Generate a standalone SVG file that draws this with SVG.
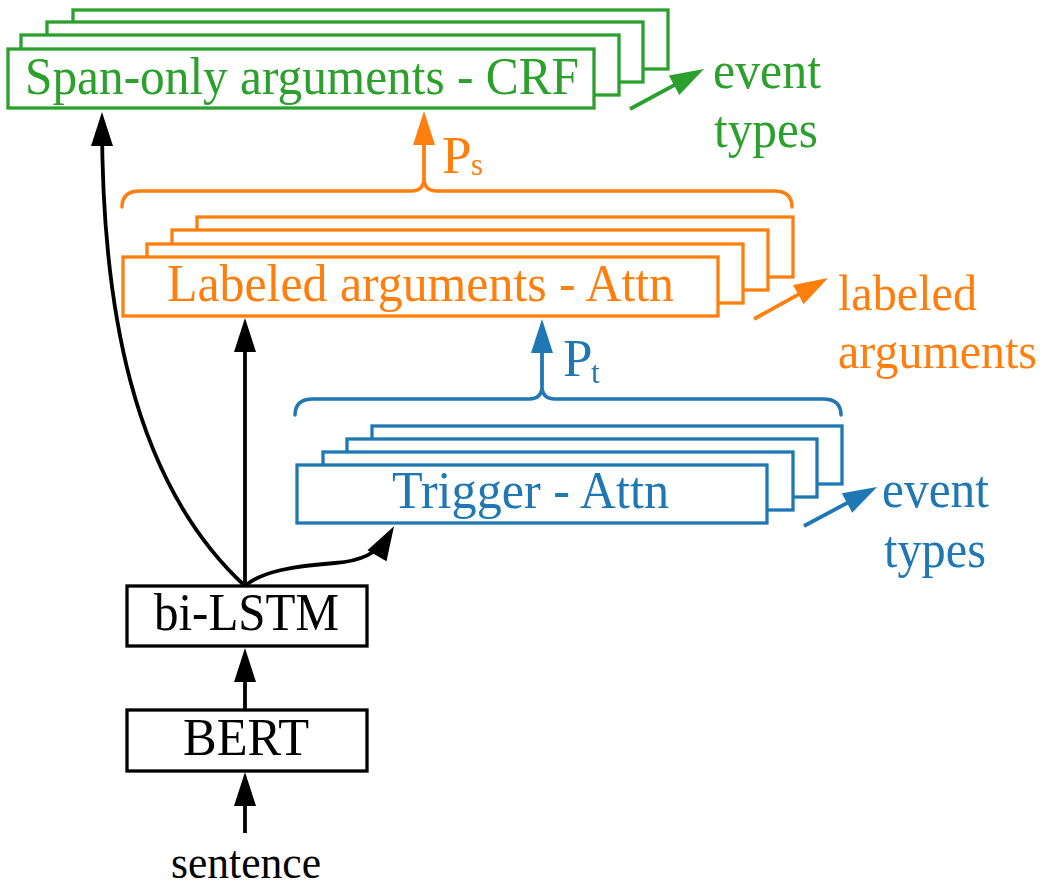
<svg xmlns="http://www.w3.org/2000/svg" width="1050" height="888" viewBox="0 0 1050 888">
<style>
  text { font-family: "Liberation Serif", "Times New Roman", serif; font-size: 53px; }
  .g { stroke: #2ca02c; } .o { stroke: #ff7f0e; } .b { stroke: #1f77b4; } .k { stroke: #000000; }
  .gt { fill: #2ca02c; } .ot { fill: #ff7f0e; } .bt { fill: #1f77b4; } .kt { fill: #000000; }
  .box { fill: #ffffff; stroke-width: 3.3; }
  .ln { fill: none; stroke-width: 3.8; }
  .br { fill: none; stroke-width: 3.5; stroke-linecap: round; }
  .sub { font-size: 31px; }
  .lab { font-size: 50px; }
</style>
<defs>
  <marker id="ak" markerUnits="userSpaceOnUse" markerWidth="34" markerHeight="22" refX="24" refY="11" orient="auto" overflow="visible"><path d="M0,0 L34,11 L0,22 z" fill="#000000"/></marker>
  <marker id="ag" markerUnits="userSpaceOnUse" markerWidth="34" markerHeight="22" refX="24" refY="11" orient="auto" overflow="visible"><path d="M0,0 L34,11 L0,22 z" fill="#2ca02c"/></marker>
  <marker id="ao" markerUnits="userSpaceOnUse" markerWidth="34" markerHeight="22" refX="24" refY="11" orient="auto" overflow="visible"><path d="M0,0 L34,11 L0,22 z" fill="#ff7f0e"/></marker>
  <marker id="ab" markerUnits="userSpaceOnUse" markerWidth="34" markerHeight="22" refX="24" refY="11" orient="auto" overflow="visible"><path d="M0,0 L34,11 L0,22 z" fill="#1f77b4"/></marker>
</defs>

<g id="span-crf">
  <rect class="box g" x="73" y="10" width="595" height="59"/>
  <rect class="box g" x="47" y="22" width="596" height="60"/>
  <rect class="box g" x="21" y="35" width="598" height="60"/>
  <rect class="box g" x="8" y="49" width="586" height="59"/>
  <text class="gt" x="25" y="94" textLength="554" lengthAdjust="spacingAndGlyphs">Span-only arguments - CRF</text>
</g>
<g id="span-label">
  <text class="gt" x="713" y="88" textLength="108" lengthAdjust="spacingAndGlyphs">event</text>
  <text class="gt" x="714" y="147" textLength="104" lengthAdjust="spacingAndGlyphs">types</text>
</g>

<g id="labeled-attn">
  <rect class="box o" x="197" y="217" width="596" height="60"/>
  <rect class="box o" x="172" y="230" width="596" height="60"/>
  <rect class="box o" x="147" y="244" width="596" height="59"/>
  <rect class="box o" x="123" y="257" width="595" height="59"/>
  <text class="ot" x="167" y="301" textLength="507" lengthAdjust="spacingAndGlyphs">Labeled arguments - Attn</text>
</g>
<g id="labeled-label">
  <text class="ot lab" x="838" y="310" textLength="139" lengthAdjust="spacingAndGlyphs">labeled</text>
  <text class="ot lab" x="838" y="368" textLength="199" lengthAdjust="spacingAndGlyphs">arguments</text>
</g>
<g id="ps-brace">
  <path class="br o" d="M122,207 C122,196 128,191 140,191 L411,191 C419,191 424,187 424,178 C424,187 429,191 437,191 L774,191 C786,191 792,196 792,207"/>
  <text class="ot" x="442" y="173">P</text>
  <text class="ot sub" x="471" y="175">s</text>
</g>

<g id="trigger-attn">
  <rect class="box b" x="372" y="426" width="470" height="58"/>
  <rect class="box b" x="347" y="439" width="470" height="58"/>
  <rect class="box b" x="323" y="452" width="470" height="58"/>
  <rect class="box b" x="297" y="465" width="470" height="58"/>
  <text class="bt" x="392" y="508" textLength="277" lengthAdjust="spacingAndGlyphs">Trigger - Attn</text>
</g>
<g id="trigger-label">
  <text class="bt" x="882" y="507" textLength="107" lengthAdjust="spacingAndGlyphs">event</text>
  <text class="bt" x="884" y="567" textLength="102" lengthAdjust="spacingAndGlyphs">types</text>
</g>
<g id="pt-brace">
  <path class="br b" d="M295,415 C295,404 301,399 313,399 L529,399 C537,399 542,395 542,386 C542,395 547,399 555,399 L823,399 C835,399 841,404 841,415"/>
  <text class="bt" x="563" y="376">P</text>
  <text class="bt sub" x="591" y="383">t</text>
</g>

<g id="bilstm">
  <rect class="box k" x="127" y="586" width="240" height="60"/>
  <text class="kt" x="154" y="630" textLength="185" lengthAdjust="spacingAndGlyphs">bi-LSTM</text>
</g>
<g id="bert">
  <rect class="box k" x="127" y="710" width="240" height="61"/>
  <text class="kt" x="183" y="755" textLength="126" lengthAdjust="spacingAndGlyphs">BERT</text>
</g>
<g id="sentence">
  <text class="kt" x="171" y="878" style="font-size:47px" textLength="150" lengthAdjust="spacingAndGlyphs">sentence</text>
</g>

<g id="connectors">
  <path class="ln k" d="M245,833 L245,782" marker-end="url(#ak)"/>
  <path class="ln k" d="M245,710 L245,658" marker-end="url(#ak)"/>
  <path class="ln k" d="M245,586 C130,480 102,300 102,122" marker-end="url(#ak)"/>
  <path class="ln k" d="M245,586 L245,328" marker-end="url(#ak)"/>
  <path class="ln k" d="M245,586 C262,571 295,566 335,563 C360,561 378,554 389,535" marker-end="url(#ak)"/>
  <path class="ln o" d="M424,180 L424,121" marker-end="url(#ao)"/>
  <path class="ln b" d="M542,386 L542,329" marker-end="url(#ab)"/>
  <path class="ln g" d="M630,109 L695.2,73.8" marker-end="url(#ag)"/>
  <path class="ln o" d="M754,319 L819.3,282.9" marker-end="url(#ao)"/>
  <path class="ln b" d="M804,526 L868.2,491.7" marker-end="url(#ab)"/>
</g>
</svg>
